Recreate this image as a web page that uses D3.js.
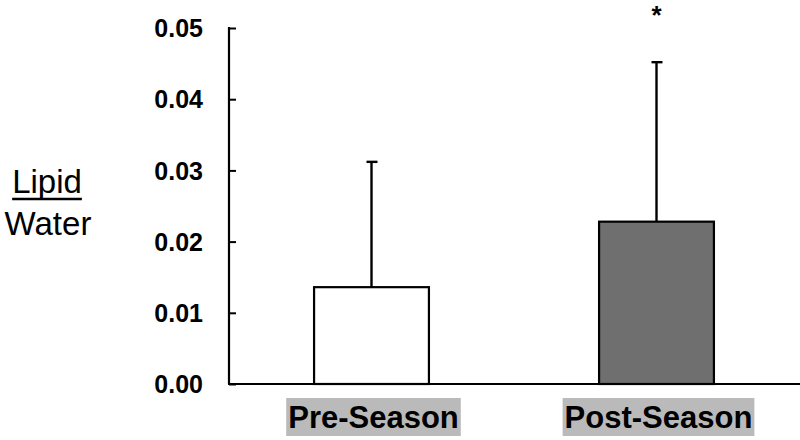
<!DOCTYPE html>
<html>
<head>
<meta charset="utf-8">
<script src="https://cdn.jsdelivr.net/npm/d3@7"></script>
<style>
  html, body { margin: 0; padding: 0; background: #fff; }
  svg { display: block; font-family: "Liberation Sans", Arial, sans-serif; }
</style>
</head>
<body>
<svg id="chart" width="800" height="440"></svg>
<script>
const categories = ["Pre-Season", "Post-Season"];
const means = [0.0136, 0.0228];
const errors = [0.0176, 0.0224];
const fills = ["#ffffff", "#6f6f6f"];
const significant = [false, true];
const yTicks = [0.00, 0.01, 0.02, 0.03, 0.04, 0.05];

const svg = d3.select("#chart");
const x0 = 229, x1 = 799;
const yBottom = 384, yTop = 28;

const x = d3.scaleBand().domain(categories).range([x0, x1])
  .paddingInner(0.597).paddingOuter(0.2985);
const y = d3.scaleLinear().domain([0, 0.05]).range([yBottom, yTop]);

// Y axis: ticks inward
const yAxis = d3.axisLeft(y).tickValues(yTicks).tickFormat(d3.format(".2f"))
  .tickSizeInner(-7).tickSizeOuter(0).tickPadding(26);
const gy = svg.append("g").attr("transform", `translate(${x0},0)`).call(yAxis);
gy.select(".domain").attr("stroke", "#000").attr("stroke-width", 2.2)
  .attr("d", `M0,${yTop - 1}V${yBottom}`);
gy.selectAll(".tick line").attr("stroke", "#000").attr("stroke-width", 2);
gy.selectAll(".tick text").attr("fill", "#000").attr("font-size", 25)
  .attr("font-weight", "bold").attr("text-anchor", "end").attr("dy", "0.35em");

// bars
svg.selectAll("rect.bar").data(categories).enter().append("rect")
  .attr("class", "bar")
  .attr("x", d => x(d))
  .attr("width", x.bandwidth())
  .attr("y", (d, i) => y(means[i]))
  .attr("height", (d, i) => yBottom - y(means[i]))
  .attr("fill", (d, i) => fills[i])
  .attr("stroke", "#000").attr("stroke-width", 2.2);

// error bars (upper only)
categories.forEach((c, i) => {
  const cx = x(c) + x.bandwidth() / 2;
  const top = y(means[i] + errors[i]);
  svg.append("line").attr("x1", cx).attr("x2", cx)
    .attr("y1", y(means[i])).attr("y2", top)
    .attr("stroke", "#000").attr("stroke-width", 2.4);
  svg.append("line").attr("x1", cx - 5).attr("x2", cx + 6)
    .attr("y1", top).attr("y2", top)
    .attr("stroke", "#000").attr("stroke-width", 2.4);
  if (significant[i]) {
    svg.append("text").attr("x", cx).attr("y", 24)
      .attr("text-anchor", "middle").attr("font-size", 26).attr("font-weight", "bold")
      .attr("fill", "#000").text("*");
  }
});

// x axis line
svg.append("line").attr("x1", x0 - 1).attr("x2", 800)
  .attr("y1", yBottom).attr("y2", yBottom)
  .attr("stroke", "#000").attr("stroke-width", 2.2);

// x labels with gray highlight
categories.forEach((c, i) => {
  const cx = x(c) + x.bandwidth() / 2 + 2;
  const g = svg.append("g");
  const bg = g.append("rect").attr("fill", "#bababa");
  const t = g.append("text").attr("x", cx).attr("y", 428)
    .attr("text-anchor", "middle").attr("font-size", 31).attr("font-weight", "bold")
    .attr("fill", "#000").text(c);
  const bb = t.node().getBBox();
  bg.attr("x", bb.x - 2).attr("width", bb.width + 4)
    .attr("y", 398).attr("height", 38);
});

// y label: Lipid / Water
const lip = svg.append("text").attr("x", 47).attr("y", 193)
  .attr("text-anchor", "middle").attr("font-size", 33).attr("fill", "#000").text("Lipid");
const lb = lip.node().getBBox();
svg.append("line").attr("x1", lb.x).attr("x2", lb.x + lb.width)
  .attr("y1", 199).attr("y2", 199).attr("stroke", "#000").attr("stroke-width", 2.6);
svg.append("text").attr("x", 48).attr("y", 235)
  .attr("text-anchor", "middle").attr("font-size", 33).attr("fill", "#000").text("Water");
</script>
</body>
</html>
